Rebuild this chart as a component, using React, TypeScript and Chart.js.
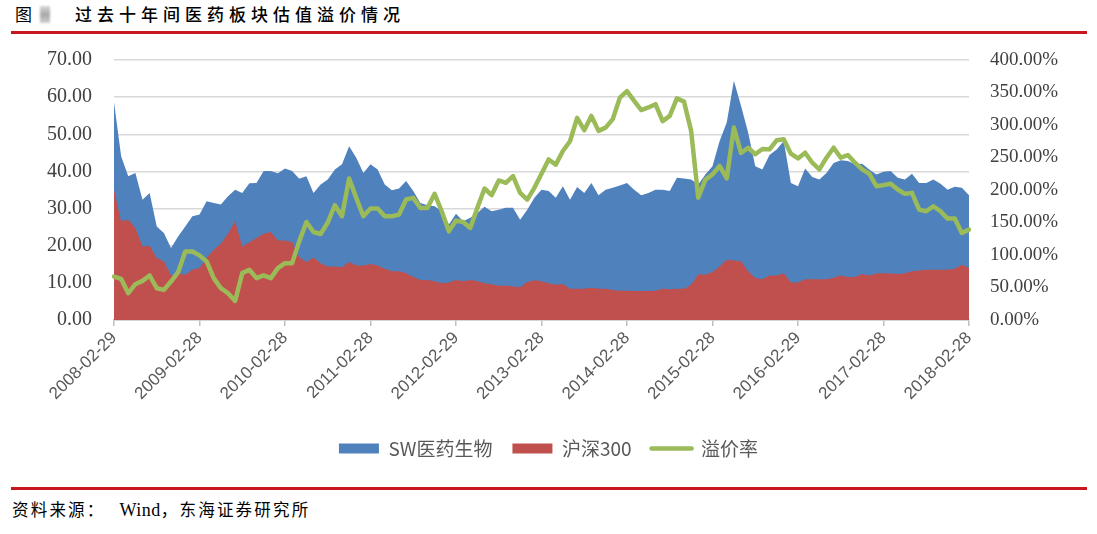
import React, { useEffect, useRef } from "react";
import { Chart, registerables } from "chart.js";

Chart.register(...registerables);

// Month-end dates from 2008-02 to 2018-02 (121 categories)
function monthEnds(): string[] {
  const out: string[] = [];
  for (let k = 0; k < 121; k++) {
    const y = 2008 + Math.floor((1 + k) / 12);
    const m = ((1 + k) % 12) + 1;
    const last = new Date(Date.UTC(y, m, 0)).getUTCDate();
    out.push(`${y}-${String(m).padStart(2, "0")}-${String(last).padStart(2, "0")}`);
  }
  return out;
}
const categories: string[] = monthEnds();

const tickLabels: string[] = [
  "2008-02-29", "2009-02-28", "2010-02-28", "2011-02-28", "2012-02-29", "2013-02-28",
  "2014-02-28", "2015-02-28", "2016-02-29", "2017-02-28", "2018-02-28",
];

const swPE: number[] = [
  58.6, 44.1, 38.7, 39.6, 32.4, 34.2, 25.2, 23.4, 19.4, 22.5, 25.2, 27.9,
  28.4, 32.0, 31.5, 31.1, 33.3, 35.1, 34.2, 36.8, 36.9, 40.1, 40.1, 39.5,
  40.8, 40.1, 38.0, 38.7, 34.2, 36.5, 37.8, 40.5, 41.9, 46.8, 43.7, 39.6,
  41.9, 40.5, 36.5, 34.9, 35.4, 37.4, 34.7, 31.5, 30.9, 30.6, 29.3, 25.7,
  28.6, 26.6, 27.5, 28.8, 30.5, 29.3, 29.7, 30.2, 30.2, 27.0, 29.7, 32.9,
  35.1, 34.7, 32.9, 36.0, 32.4, 35.8, 34.2, 36.9, 33.6, 35.1, 35.6, 36.2,
  36.9, 35.1, 33.6, 34.2, 35.1, 35.1, 34.7, 38.3, 38.1, 37.8, 36.5, 39.2,
  41.4, 48.2, 53.2, 64.4, 57.7, 50.5, 41.4, 40.5, 44.4, 45.9, 48.2, 36.9,
  36.0, 40.8, 38.5, 37.8, 39.6, 42.3, 43.0, 42.8, 41.9, 42.1, 40.5, 39.2,
  39.9, 40.1, 38.3, 37.8, 39.4, 36.9, 36.9, 37.8, 36.7, 35.1, 35.9, 35.6,
  33.6,
];

const hs300PE: number[] = [
  34.9, 26.6, 27.0, 24.8, 19.8, 20.0, 16.7, 15.8, 12.0, 12.6, 12.2, 13.5,
  14.0, 16.7, 18.9, 20.5, 23.2, 26.6, 19.8, 20.9, 22.1, 23.2, 23.7, 21.4,
  21.4, 21.0, 16.9, 15.6, 16.8, 15.3, 14.4, 14.4, 14.2, 15.6, 14.7, 14.7,
  15.1, 14.7, 13.8, 13.1, 13.1, 12.6, 11.6, 10.8, 10.8, 10.4, 9.9, 10.1,
  10.8, 10.4, 10.8, 10.4, 9.9, 9.6, 9.2, 9.3, 9.0, 8.8, 10.2, 10.7,
  10.4, 9.9, 9.5, 9.7, 8.4, 8.4, 8.4, 8.7, 8.4, 8.4, 8.1, 7.9,
  7.9, 7.8, 7.8, 7.8, 7.9, 8.4, 8.3, 8.4, 8.4, 9.5, 12.3, 12.2,
  12.9, 14.4, 16.2, 16.0, 15.8, 13.1, 11.3, 11.0, 12.0, 12.0, 12.6, 10.1,
  10.1, 11.0, 11.0, 11.0, 11.0, 11.4, 12.0, 11.6, 11.6, 12.4, 12.0, 12.5,
  12.6, 12.5, 12.4, 12.6, 13.1, 13.3, 13.5, 13.5, 13.5, 13.5, 13.8, 14.9,
  14.0,
];

const premiumPct: number[] = [
  66.9, 63.3, 41.2, 55.1, 60.2, 68.5, 48.9, 46.3, 59.2, 73.6, 105.5, 105.5,
  99.4, 90.1, 64.4, 48.9, 41.2, 29.3, 72.1, 77.2, 64.4, 68.5, 64.4, 79.8,
  87.5, 87.5, 121.0, 150.8, 135.4, 132.3, 150.0, 176.6, 159.6, 217.8, 187.9, 159.6,
  171.4, 171.4, 159.6, 159.6, 162.2, 185.3, 187.9, 172.5, 172.5, 194.1, 167.3, 136.4,
  152.9, 150.8, 141.6, 172.5, 202.3, 192.0, 214.7, 211.1, 221.4, 195.6, 185.3, 203.3,
  225.0, 247.0, 239.0, 260.0, 275.0, 311.0, 292.0, 314.0, 291.0, 296.0, 309.0, 342.0,
  352.0, 337.0, 323.0, 327.0, 332.0, 306.0, 314.0, 341.0, 336.0, 291.0, 188.0, 216.0,
  224.0, 237.0, 218.0, 296.0, 257.0, 265.0, 255.0, 263.0, 262.5, 276.4, 278.0, 255.9,
  248.6, 257.4, 242.0, 231.7, 249.7, 265.1, 249.7, 253.8, 242.0, 231.7, 225.0, 205.9,
  207.5, 209.5, 200.8, 194.1, 195.6, 169.9, 167.3, 175.0, 167.3, 156.0, 156.0, 133.8,
  139.0,
];

const seriesNames: string[] = ["SW医药生物", "沪深300", "溢价率"];

const BLUE = "#4F81BD";
const RED = "#C0504D";
const GREEN = "#9BBB59";
const CJK = '"Noto Sans CJK SC", "Noto Sans", sans-serif';

function ChartBox() {
  const ref = useRef<HTMLCanvasElement | null>(null);
  useEffect(() => {
    if (!ref.current) return;
    const chart = new Chart(ref.current, {
      type: "line",
      data: {
        labels: categories,
        datasets: [
          {
            label: seriesNames[0],
            data: swPE,
            yAxisID: "y",
            backgroundColor: BLUE,
            borderColor: "rgba(0,0,0,0)",
            borderWidth: 0,
            pointRadius: 0,
            fill: "origin",
            tension: 0,
            order: 3,
          },
          {
            label: seriesNames[1],
            data: hs300PE,
            yAxisID: "y",
            backgroundColor: RED,
            borderColor: "rgba(0,0,0,0)",
            borderWidth: 0,
            pointRadius: 0,
            fill: "origin",
            tension: 0,
            order: 2,
          },
          {
            label: seriesNames[2],
            data: premiumPct,
            yAxisID: "y1",
            backgroundColor: GREEN,
            borderColor: GREEN,
            borderWidth: 4.5,
            borderJoinStyle: "round",
            borderCapStyle: "round",
            pointRadius: 0,
            fill: false,
            tension: 0,
            order: 1,
          },
        ],
      },
      options: {
        responsive: false,
        animation: false,
        maintainAspectRatio: false,
        layout: { padding: { top: 20, left: 0, right: 0, bottom: 22 } },
        plugins: {
          tooltip: { enabled: false },
          legend: {
            position: "bottom",
            labels: {
              usePointStyle: true,
              pointStyleWidth: 40,
              boxHeight: 10,
              padding: 20,
              color: "#595959",
              font: { family: CJK, size: 19 },
              sort: (a: any, b: any) => a.datasetIndex - b.datasetIndex,
              generateLabels: (c: any) => {
                const items = (Chart as any).defaults.plugins.legend.labels.generateLabels(c);
                return items.map((it: any) => ({
                  ...it,
                  pointStyle: it.datasetIndex === 2 ? "line" : "rect",
                  lineWidth: it.datasetIndex === 2 ? 4.5 : 0,
                  lineCap: "round",
                }));
              },
            },
          },
        },
        scales: {
          x: {
            type: "category",
            offset: false,
            afterBuildTicks: (s: any) => {
              s.ticks = s.ticks.filter((t: any) => tickLabels.includes(categories[t.value]));
            },
            afterFit: (s: any) => {
              s.height = 99;
            },
            grid: {
              display: true,
              drawOnChartArea: false,
              drawTicks: true,
              tickLength: 6,
              color: "#BFBFBF",
              lineWidth: 1.5,
            },
            border: { display: true, color: "#BFBFBF", width: 1.5 },
            ticks: {
              autoSkip: false,
              maxRotation: 45,
              minRotation: 45,
              padding: 2,
              color: "#595959",
              font: { family: '"Liberation Sans", sans-serif', size: 17 },
            },
          },
          y: {
            position: "left",
            min: 0,
            max: 70,
            afterFit: (s: any) => {
              s.width = 114;
            },
            ticks: {
              stepSize: 10,
              padding: 0,
              color: "#404040",
              font: { family: '"Liberation Serif", serif', size: 20 },
              callback: (v: any) => Number(v).toFixed(2),
            },
            grid: {
              color: "#D9D9D9",
              lineWidth: 1.5,
              drawTicks: true,
              tickLength: 22,
              tickColor: "rgba(0,0,0,0)",
            },
            border: { display: false },
          },
          y1: {
            position: "right",
            min: 0,
            max: 400,
            afterFit: (s: any) => {
              s.width = 128;
            },
            ticks: {
              stepSize: 50,
              padding: 0,
              color: "#404040",
              font: { family: '"Liberation Serif", serif', size: 19 },
              callback: (v: any) => Number(v).toFixed(2) + "%",
            },
            grid: {
              drawOnChartArea: false,
              drawTicks: true,
              tickLength: 21,
              tickColor: "rgba(0,0,0,0)",
            },
            border: { display: false },
          },
        },
      },
    } as any);
    return () => chart.destroy();
  }, []);
  return (
    <canvas
      ref={ref}
      width={1097}
      height={450}
      style={{ position: "absolute", left: 0, top: 40, width: 1097, height: 450 }}
    />
  );
}

export default function App() {
  return (
    <div
      style={{
        position: "absolute",
        left: 0,
        top: 0,
        width: 1097,
        height: 534,
        background: "#ffffff",
        overflow: "hidden",
      }}
    >
      <div
        style={{
          position: "absolute",
          left: 15,
          top: 5,
          fontFamily: CJK,
          fontSize: 17,
          lineHeight: 1,
          color: "#000",
        }}
      >
        图
      </div>
      <div
        style={{
          position: "absolute",
          left: 40,
          top: 6,
          width: 10,
          height: 17,
          background: "linear-gradient(180deg,#d8d8d8,#a8a8a8 50%,#d0d0d0)",
          filter: "blur(1px)",
        }}
      />
      <div
        style={{
          position: "absolute",
          left: 75,
          top: 5,
          fontFamily: CJK,
          fontSize: 17,
          fontWeight: 500,
          lineHeight: 1,
          letterSpacing: 5,
          color: "#000",
          whiteSpace: "nowrap",
        }}
      >
        过去十年间医药板块估值溢价情况
      </div>
      <div
        style={{
          position: "absolute",
          left: 11,
          top: 31,
          width: 1076,
          height: 3,
          background: "#C9151E",
        }}
      />
      <ChartBox />
      <div
        style={{
          position: "absolute",
          left: 11,
          top: 487,
          width: 1076,
          height: 3,
          background: "#C9151E",
        }}
      />
      <div
        style={{
          position: "absolute",
          left: 12,
          top: 501,
          fontFamily: '"Liberation Serif", "Noto Sans CJK SC", serif',
          fontSize: 16.5,
          lineHeight: 1,
          letterSpacing: 2.2,
          color: "#000",
          whiteSpace: "nowrap",
        }}
      >
        资料来源：
        <span style={{ marginLeft: 14, letterSpacing: 0.5, fontSize: 18 }}>Wind</span>
        <span>，东海证券研究所</span>
      </div>
    </div>
  );
}
